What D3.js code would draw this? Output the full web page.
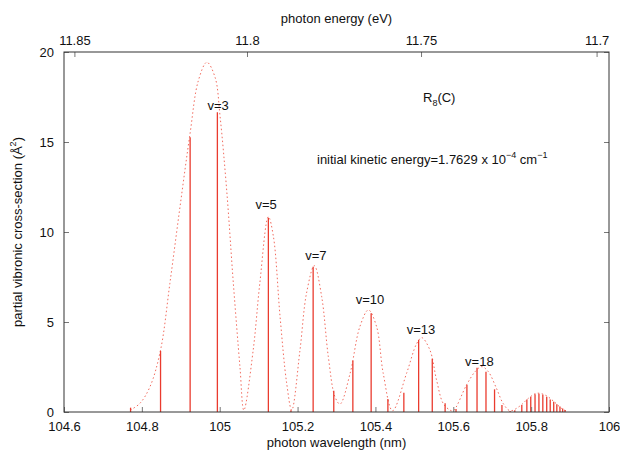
<!DOCTYPE html>
<html>
<head>
<meta charset="utf-8">
<script src="https://cdn.jsdelivr.net/npm/d3@7"></script>
<style>
  body { margin: 0; background: #fff; }
  svg text { font-family: "Liberation Sans", Arial, Helvetica, sans-serif; font-size: 13px; fill: #111; }
</style>
</head>
<body>
<svg id="chart" width="620" height="452"></svg>
<script>
(function() {
// stick spectrum (photon wavelength in nm, cross-section in A^2)
const stickWavelength = [104.771, 104.848, 104.924, 104.994, 105.125, 105.183, 105.240, 105.293, 105.342, 105.389,
  105.432, 105.473, 105.511, 105.546, 105.579, 105.607, 105.635, 105.661, 105.684, 105.706, 105.725, 105.746,
  105.758, 105.776, 105.789, 105.799, 105.810, 105.820, 105.830, 105.840, 105.849, 105.858, 105.866, 105.874,
  105.881, 105.887];
const stickValue = [0.24, 3.39, 15.26, 16.65, 10.79, 0.1, 8.07, 1.18, 2.85, 5.48,
  0.72, 1.07, 4.0, 2.96, 0.48, 0.17, 1.5, 2.46, 2.24, 1.26, 0.39, 0.05,
  0.1, 0.39, 0.7, 0.85, 0.98, 1.02, 0.96, 0.85, 0.7, 0.57, 0.43, 0.3,
  0.19, 0.11];

// convolved envelope (dotted curve)
const curveWavelength = [104.770, 104.795, 104.821, 104.848, 104.872, 104.898, 104.924, 104.945, 104.967, 104.988,
  105.001, 105.018, 105.035, 105.052, 105.062, 105.086, 105.103, 105.125, 105.138, 105.155, 105.172, 105.185,
  105.206, 105.223, 105.243, 105.262, 105.279, 105.296, 105.309, 105.335, 105.360, 105.382, 105.403, 105.420,
  105.444, 105.480, 105.506, 105.519, 105.540, 105.557, 105.574, 105.592, 105.600, 105.634, 105.656, 105.673,
  105.690, 105.711, 105.728, 105.746, 105.771, 105.793, 105.814, 105.836, 105.857, 105.878, 105.891];
const curveValue = [0.1, 0.48, 1.41, 3.44, 7.15, 11.4, 15.5, 18.4, 19.43, 18.6,
  16.4, 12.3, 7.15, 2.5, 0.1, 3.44, 7.15, 10.85, 9.74, 5.3, 1.6, 0.1,
  3.4, 6.6, 8.13, 6.4, 3.07, 0.85, 0.44, 2.15, 4.74, 5.67, 4.74, 2.15,
  0.07, 2.15, 3.8, 4.13, 3.44, 1.78, 0.48, 0.1, 0.07, 1.5, 2.24, 2.52,
  2.24, 1.31, 0.48, 0.07, 0.33, 0.76, 1.04, 0.94, 0.61, 0.2, 0.05];

const vLabels = ['v=3', 'v=5', 'v=7', 'v=10', 'v=13', 'v=18'];
const vLabelWavelength = [104.996, 105.119, 105.247, 105.386, 105.517, 105.667];
const vLabelValue = [16.78, 11.28, 8.44, 6.0, 4.33, 2.57];

const xTicks = [104.6, 104.8, 105, 105.2, 105.4, 105.6, 105.8, 106];
const yTicks = [0, 5, 10, 15, 20];
const energyTicks = [11.85, 11.8, 11.75, 11.7];
const HC = 1239.84193; // eV nm

const svg = d3.select('svg#chart');
const margin = { top: 52, right: 11, bottom: 40, left: 64 };
const width = +svg.attr('width') - margin.left - margin.right;
const height = +svg.attr('height') - margin.top - margin.bottom;
const g = svg.append('g').attr('transform', `translate(${margin.left},${margin.top})`);

const xScale = d3.scaleLinear().domain([104.6, 106]).range([0, width]);
const yScale = d3.scaleLinear().domain([0, 20]).range([height, 0]);

// envelope
const curve = curveWavelength.map((w, i) => [w, curveValue[i]]);
g.append('path')
  .datum(curve)
  .attr('fill', 'none')
  .attr('stroke', '#f26b5e')
  .attr('stroke-width', 1)
  .attr('stroke-dasharray', '1.5,2.5')
  .attr('d', d3.line().x(d => xScale(d[0])).y(d => yScale(d[1])).curve(d3.curveCatmullRom.alpha(0.5)));

// sticks
g.selectAll('line.stick')
  .data(stickWavelength.map((w, i) => [w, stickValue[i]]))
  .enter().append('line')
  .attr('class', 'stick')
  .attr('x1', d => xScale(d[0])).attr('x2', d => xScale(d[0]))
  .attr('y1', yScale(0)).attr('y2', d => yScale(d[1]))
  .attr('stroke', '#ea3b2e')
  .attr('stroke-width', 1.3);

// bottom axis (ticks inside)
const xAxis = g.append('g')
  .attr('transform', `translate(0,${height})`)
  .call(d3.axisBottom(xScale).tickValues(xTicks).tickFormat(d3.format('')).tickSizeInner(-5).tickSizeOuter(0).tickPadding(10));
// left axis
const yAxis = g.append('g')
  .call(d3.axisLeft(yScale).tickValues(yTicks).tickSizeInner(-5).tickSizeOuter(0).tickPadding(10));
// right axis mirror
const yAxisR = g.append('g')
  .attr('transform', `translate(${width},0)`)
  .call(d3.axisRight(yScale).tickValues(yTicks).tickFormat('').tickSizeInner(-5).tickSizeOuter(0));
[xAxis, yAxis, yAxisR].forEach(a => {
  a.select('.domain').remove();
  a.selectAll('line').attr('stroke', '#777');
  a.selectAll('text').attr('font-size', 13).attr('font-family', null).attr('fill', '#111');
});

// top axis: photon energy, positioned through the wavelength scale
const top = g.append('g');
top.selectAll('line')
  .data(energyTicks)
  .enter().append('line')
  .attr('x1', d => xScale(HC / d)).attr('x2', d => xScale(HC / d))
  .attr('y1', 0).attr('y2', 5)
  .attr('stroke', '#777');
top.selectAll('text')
  .data(energyTicks)
  .enter().append('text')
  .attr('x', d => xScale(HC / d))
  .attr('y', -7)
  .attr('text-anchor', 'middle')
  .text(d => d);

// frame
g.append('rect')
  .attr('width', width).attr('height', height)
  .attr('fill', 'none').attr('stroke', '#333').attr('stroke-width', 1);

// axis titles
svg.append('text')
  .attr('x', margin.left + width / 2).attr('y', 447)
  .attr('text-anchor', 'middle')
  .text('photon wavelength (nm)');
svg.append('text')
  .attr('x', margin.left + width / 2).attr('y', 23)
  .attr('text-anchor', 'middle')
  .text('photon energy (eV)');
const yt = svg.append('text')
  .attr('transform', `translate(22,${margin.top + height / 2}) rotate(-90)`)
  .attr('text-anchor', 'middle');
yt.append('tspan').text('partial vibronic cross-section (Å');
yt.append('tspan').attr('font-size', 9).attr('dy', -6).text('2');
yt.append('tspan').attr('dy', 6).text(')');

// v labels
g.selectAll('text.vlab')
  .data(vLabels)
  .enter().append('text')
  .attr('class', 'vlab')
  .attr('x', (d, i) => xScale(vLabelWavelength[i]))
  .attr('y', (d, i) => yScale(vLabelValue[i]))
  .attr('text-anchor', 'middle')
  .text(d => d);

// annotations
const r = svg.append('text').attr('x', 423).attr('y', 102);
r.append('tspan').text('R');
r.append('tspan').attr('font-size', 9).attr('dy', 4).text('8');
r.append('tspan').attr('dy', -4).text('(C)');

const ke = svg.append('text').attr('x', 317).attr('y', 164);
ke.append('tspan').text('initial kinetic energy=1.7629 x 10');
ke.append('tspan').attr('font-size', 9).attr('dy', -6).text('\u22124');
ke.append('tspan').attr('dy', 6).text(' cm');
ke.append('tspan').attr('font-size', 9).attr('dy', -6).text('\u22121');
})();
</script>
</body>
</html>
